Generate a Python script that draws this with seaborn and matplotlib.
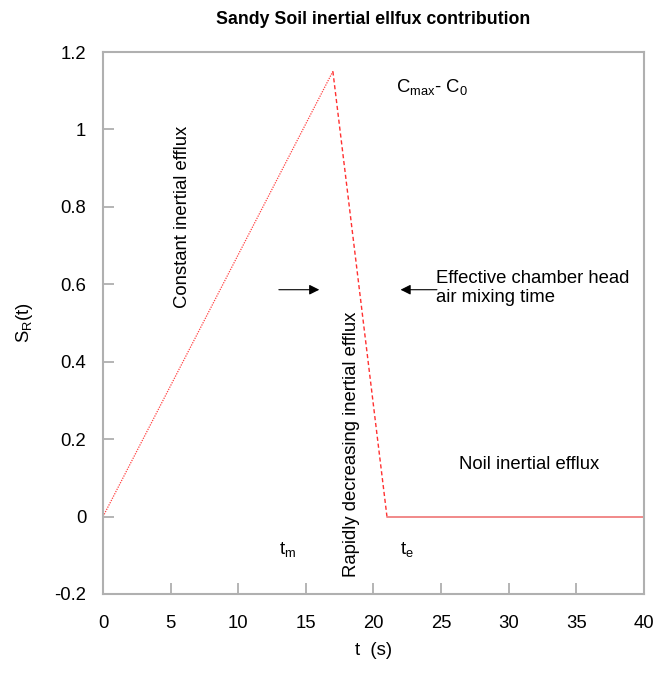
import matplotlib
matplotlib.use("Agg")
import matplotlib.pyplot as plt
import seaborn as sns
import pandas as pd

# data
t_rise = [0, 17]
s_rise = [0, 1.15]
t_fall = [17, 21]
s_fall = [1.15, 0]
t_flat = [21, 40]
s_flat = [0, 0]
x_ticks = [0, 5, 10, 15, 20, 25, 30, 35, 40]
y_ticks = [-0.2, 0, 0.2, 0.4, 0.6, 0.8, 1, 1.2]
y_tick_labels = ["-0.2", "0", "0.2", "0.4", "0.6", "0.8", "1", "1.2"]

sns.set_style("white")
plt.rcParams['font.family'] = ['Liberation Sans', 'DejaVu Sans']
plt.rcParams['mathtext.fontset'] = 'custom'
plt.rcParams['mathtext.rm'] = 'Liberation Sans'
plt.rcParams['mathtext.it'] = 'Liberation Sans'
plt.rcParams['text.color'] = 'black'
plt.rcParams['axes.labelcolor'] = 'black'
plt.rcParams['xtick.color'] = 'black'
plt.rcParams['ytick.color'] = 'black'

fig = plt.figure(figsize=(6.57, 6.89), dpi=100)
ax = fig.add_axes([0.1568, 0.1379, 0.8232, 0.7866])

sns.lineplot(x=t_rise, y=s_rise, ax=ax, color="#ff4040", lw=0.9, linestyle=(0, (1, 1)))
sns.lineplot(x=t_fall, y=s_fall, ax=ax, color="#ff3030", lw=1.0, linestyle=(0, (3, 2)))
sns.lineplot(x=t_flat, y=s_flat, ax=ax, color="#f08080", lw=1.3)

fs = 13.3
ax.set_xlim(0, 40)
ax.set_ylim(-0.2, 1.2)
ax.set_xticks(x_ticks)
ax.set_yticks(y_ticks)
ax.set_yticklabels(y_tick_labels)
ax.tick_params(left=True, bottom=True, direction='in', length=8, width=1.2,
               color='#a8a8a8', labelcolor='black', labelsize=fs)
ax.tick_params(axis='x', pad=15)
ax.tick_params(axis='y', pad=12)
for s in ax.spines.values():
    s.set_color('#b0b0b0')
    s.set_linewidth(1.5)

ax.set_title("Sandy Soil inertial ellfux contribution", fontsize=12.8, fontweight='bold', pad=20, color='black')
ax.set_xlabel("t  (s)", fontsize=fs, labelpad=7)
ax.set_ylabel(r"S$_\mathrm{R}$(t)", fontsize=fs, labelpad=14)

ax.text(5.9, 0.775, "Constant inertial efflux", rotation=90, ha='center', va='center', fontsize=fs)
ax.text(18.4, 0.186, "Rapidly decreasing inertial efflux", rotation=90, ha='center', va='center', fontsize=fs)
ax.text(24.6, 0.59, "Effective chamber head\nair mixing time", ha='left', va='center', fontsize=fs, linespacing=1.15)
ax.text(31.5, 0.134, "Noil inertial efflux", ha='center', va='center', fontsize=fs)
ax.text(21.7, 1.11, r"$\mathrm{C_{max}}$- $\mathrm{C_0}$", ha='left', va='center', fontsize=fs)
ax.text(13.0, -0.085, r"$\mathrm{t_m}$", ha='left', va='center', fontsize=fs)
ax.text(22.0, -0.085, r"$\mathrm{t_e}$", ha='left', va='center', fontsize=fs)

ax.annotate("", xy=(16.2, 0.586), xytext=(12.8, 0.586),
            arrowprops=dict(arrowstyle='-|>', color='black', lw=0.8, mutation_scale=15))
ax.annotate("", xy=(21.8, 0.586), xytext=(24.9, 0.586),
            arrowprops=dict(arrowstyle='-|>', color='black', lw=0.8, mutation_scale=15))

fig.savefig("out.png", dpi=100)
